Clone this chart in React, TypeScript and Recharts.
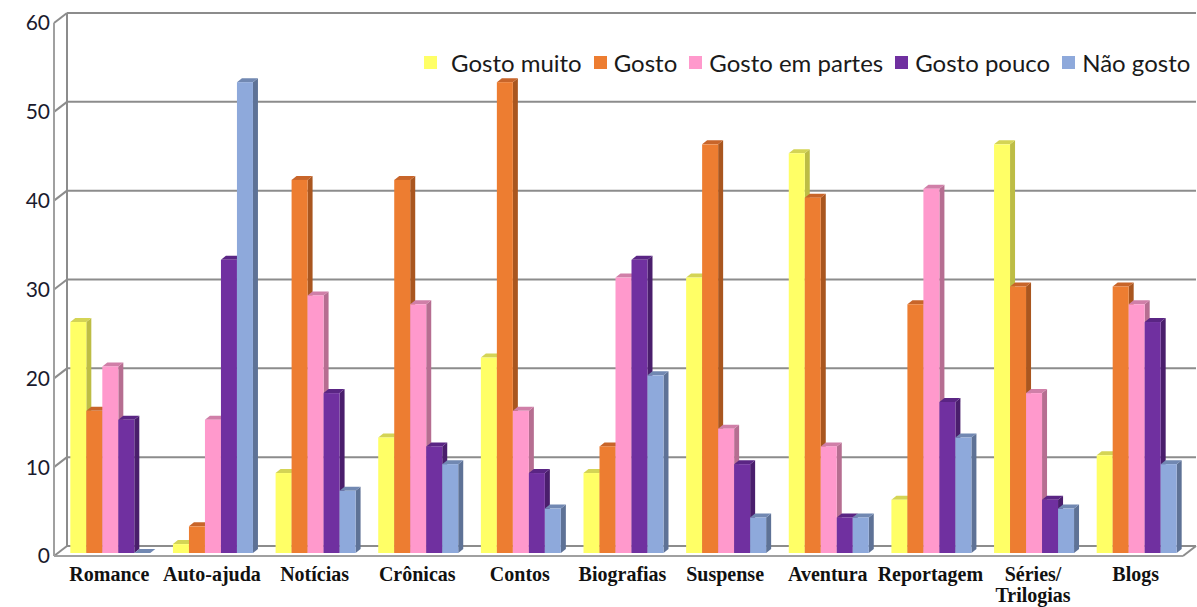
import React from "react";
import { BarChart, Bar, XAxis, YAxis, CartesianGrid, Legend } from "recharts";

// categories on the x axis
const categories = [
  "Romance",
  "Auto-ajuda",
  "Notícias",
  "Crônicas",
  "Contos",
  "Biografias",
  "Suspense",
  "Aventura",
  "Reportagem",
  "Séries/ Trilogias",
  "Blogs",
];

// series values
const gostoMuito = [26, 1, 9, 13, 22, 9, 31, 45, 6, 46, 11];
const gosto = [16, 3, 42, 42, 53, 12, 46, 40, 28, 30, 30];
const gostoEmPartes = [21, 15, 29, 28, 16, 31, 14, 12, 41, 18, 28];
const gostoPouco = [15, 33, 18, 12, 9, 33, 10, 4, 17, 6, 26];
const naoGosto = [0, 53, 7, 10, 5, 20, 4, 4, 13, 5, 10];

const seriesNames = ["Gosto muito", "Gosto", "Gosto em partes", "Gosto pouco", "Não gosto"];
const yTicks = [0, 10, 20, 30, 40, 50, 60];

const data = categories.map((name, i) => ({
  name,
  s0: gostoMuito[i],
  s1: gosto[i],
  s2: gostoEmPartes[i],
  s3: gostoPouco[i],
  s4: naoGosto[i],
}));

const COLORS = [
  { front: "#FFFF66", side: "#BDBD45", top: "#D4D455" },
  { front: "#ED7D31", side: "#A9561F", top: "#C8652A" },
  { front: "#FF99CC", side: "#B66E91", top: "#D07FA8" },
  { front: "#7030A0", side: "#4A1E6C", top: "#5A2584" },
  { front: "#8EA9DB", side: "#5E7296", top: "#7188B2" },
];

const W = 1197;
const H = 607;
const PLOT_TOP = 23;
const X_AXIS_H = 51;
const PLOT_BOTTOM = H - X_AXIS_H;
const WALL_DX = 13;
const WALL_DY = -10;
const GRID = "#8c8c8c";

const Bar3D = (props: any) => {
  const { x, y, width, height, colors } = props;
  if (x == null || y == null) return null;
  const bx = x + 4;
  const by = y - 3;
  const d = 5;
  const dh = 4;
  const h = Math.max(height, 0);
  return (
    <g>
      <polygon
        points={`${bx + width},${by} ${bx + width + d},${by - dh} ${bx + width + d},${by + h - dh} ${bx + width},${by + h}`}
        fill={colors.side}
      />
      <polygon
        points={`${bx},${by} ${bx + d},${by - dh} ${bx + width + d},${by - dh} ${bx + width},${by}`}
        fill={colors.top}
      />
      {h > 0 && <rect x={bx} y={by} width={width} height={h} fill={colors.front} />}
    </g>
  );
};

const gridLine = (p: any) => {
  const { x1, y1, x2 } = p;
  const isTop = Math.abs(y1 - PLOT_TOP) < 1;
  const isBottom = Math.abs(y1 - PLOT_BOTTOM) < 1;
  return (
    <g key={p.key}>
      <line x1={x1} y1={y1} x2={x1 + WALL_DX} y2={y1 + WALL_DY} stroke={GRID} strokeWidth={2} />
      <line x1={x1 + WALL_DX} y1={y1 + WALL_DY} x2={x2 + WALL_DX} y2={y1 + WALL_DY} stroke={GRID} strokeWidth={2} />
      {isTop && (
        <line
          x1={x1 + WALL_DX}
          y1={y1 + WALL_DY}
          x2={x1 + WALL_DX}
          y2={PLOT_BOTTOM + WALL_DY}
          stroke={GRID}
          strokeWidth={2}
        />
      )}
      {isBottom && (
        <line x1={x2} y1={y1} x2={x2 + WALL_DX} y2={y1 + WALL_DY} stroke={GRID} strokeWidth={2} />
      )}
    </g>
  );
};

const CategoryTick = (props: any) => {
  const { x, y, payload } = props;
  const parts = String(payload.value).split(" ");
  const lines = payload.value.includes("/") ? parts : [payload.value];
  return (
    <text
      x={x + 4}
      y={y}
      textAnchor="middle"
      fontFamily="'Liberation Serif', serif"
      fontWeight="bold"
      fontSize={20}
      fill="#111"
    >
      {lines.map((l: string, i: number) => (
        <tspan key={i} x={x + 4} dy={i === 0 ? 17 : 21}>
          {l}
        </tspan>
      ))}
    </text>
  );
};

const renderLegend = (props: any) => {
  const payload = [...props.payload].sort(
    (a: any, b: any) => seriesNames.indexOf(a.value) - seriesNames.indexOf(b.value)
  );
  return (
    <div style={{ display: "flex", alignItems: "center", fontFamily: "Lato", fontSize: 24, color: "#1a1a1a" }}>
      {payload.map((entry: any, i: number) => (
        <div key={i} style={{ display: "flex", alignItems: "center", marginRight: 12 }}>
          <span
            style={{ display: "inline-block", width: 13, height: 13, background: entry.color, marginRight: i === 0 ? 14 : 7 }}
          />
          <span>{entry.value}</span>
        </div>
      ))}
    </div>
  );
};

export default function App() {
  return (
    <div style={{ width: W, height: H, background: "#fff", position: "absolute", left: 0, top: 0 }}>
      <style>{`body{margin:0}`}</style>
      <BarChart
        width={W}
        height={H}
        data={data}
        margin={{ top: PLOT_TOP, right: 14, bottom: 0, left: 0 }}
        barCategoryGap="12%"
        barGap={0}
      >
        <CartesianGrid horizontal={gridLine} vertical={false} />
        <XAxis
          dataKey="name"
          height={X_AXIS_H}
          tickLine={false}
          axisLine={{ stroke: "#a0a0a0", strokeWidth: 2 }}
          tick={<CategoryTick />}
          interval={0}
        />
        <YAxis
          width={54}
          domain={[0, 60]}
          ticks={yTicks}
          tickLine={false}
          axisLine={{ stroke: "#a0a0a0", strokeWidth: 2 }}
          tickMargin={-2}
          tick={{ fontFamily: "Lato", fontSize: 21, fill: "#1a1a2e" }}
        />
        <Legend
          content={renderLegend}
          layout="horizontal"
          verticalAlign="middle"
          align="center"
          wrapperStyle={{ top: 48, left: 424, width: 790, height: 32 }}
        />
        {seriesNames.map((n, i) => (
          <Bar
            key={n}
            dataKey={`s${i}`}
            name={n}
            fill={COLORS[i].front}
            isAnimationActive={false}
            shape={(p: any) => <Bar3D {...p} colors={COLORS[i]} />}
          />
        ))}
      </BarChart>
    </div>
  );
}
